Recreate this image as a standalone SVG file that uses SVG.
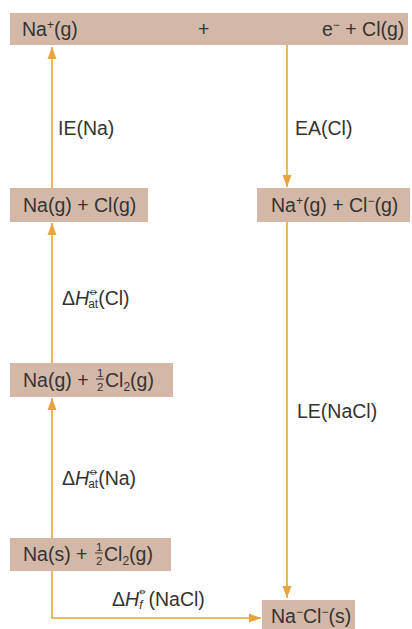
<svg xmlns="http://www.w3.org/2000/svg" width="412" height="629" viewBox="0 0 412 629">
<style>
.box{fill:#D4B8A7}
.t{font-family:"Liberation Sans",Arial,sans-serif;font-size:19.5px;fill:#333}
.sm{font-size:12px}
.pl{font-size:10px}
.fr{font-size:11.5px}
.ln{stroke:#E8A43C;stroke-width:1.6;fill:none}
</style>
<defs>
<marker id="ah" markerUnits="userSpaceOnUse" markerWidth="12" markerHeight="10" refX="12" refY="5" orient="auto">
<path d="M0,0.5 L12,5 L0,9.5 z" fill="#E8A43C"/>
</marker>
</defs>
<rect width="412" height="629" fill="#fff"/>
<g id="connectors">
<line class="ln" x1="52" y1="188" x2="52" y2="47" marker-end="url(#ah)"/>
<line class="ln" x1="52" y1="363" x2="52" y2="223" marker-end="url(#ah)"/>
<line class="ln" x1="52" y1="538" x2="52" y2="398" marker-end="url(#ah)"/>
<path class="ln" d="M52,571 V618 H261" marker-end="url(#ah)"/>
<line class="ln" x1="287" y1="45" x2="287" y2="187" marker-end="url(#ah)"/>
<line class="ln" x1="287" y1="222" x2="287" y2="598" marker-end="url(#ah)"/>
</g>
<g id="labels">
<text class="t" x="58" y="135">IE(Na)</text>
<text class="t" x="295" y="135">EA(Cl)</text>
<text class="t" x="62" y="305">Δ<tspan font-style="italic">H</tspan><tspan class="sm" dx="0" dy="-10">⦵</tspan><tspan class="sm" dx="-11" dy="13">at</tspan><tspan dy="-3">(Cl)</tspan></text>
<text class="t" x="297" y="418">LE(NaCl)</text>
<text class="t" x="62" y="485">Δ<tspan font-style="italic">H</tspan><tspan class="sm" dx="0" dy="-10">⦵</tspan><tspan class="sm" dx="-11" dy="13">at</tspan><tspan dy="-3">(Na)</tspan></text>
<text class="t" x="112" y="606">Δ<tspan font-style="italic">H</tspan><tspan class="pl" dx="0" dy="-12">⦵</tspan><tspan class="sm" dx="-8" dy="15" font-style="italic">f</tspan><tspan dx="6" dy="-3">(NaCl)</tspan></text>
</g>
<g id="top">
<rect class="box" x="10" y="13" width="398" height="32"/>
<text class="t" x="22" y="36">Na<tspan class="sm" dy="-7">+</tspan><tspan dy="7">(g)</tspan></text>
<text class="t" x="198" y="36">+</text>
<text class="t" x="322" y="36">e<tspan class="sm" dy="-7">−</tspan><tspan dy="7"> + Cl(g)</tspan></text>
</g>
<g id="na-cl-g">
<rect class="box" x="10" y="188" width="138" height="34"/>
<text class="t" x="23" y="212">Na(g) + Cl(g)</text>
</g>
<g id="ions-g">
<rect class="box" x="257" y="188" width="153" height="34"/>
<text class="t" x="271" y="212">Na<tspan class="sm" dy="-7">+</tspan><tspan dy="7">(g) + Cl</tspan><tspan class="sm" dy="-7">−</tspan><tspan dy="7">(g)</tspan></text>
</g>
<g id="na-g-cl2">
<rect class="box" x="10" y="363" width="163" height="34"/>
<text class="t" x="23" y="387">Na(g) + </text>
<text class="t fr" x="97" y="377">1</text>
<line x1="96" y1="379" x2="104" y2="379" stroke="#333" stroke-width="1"/>
<text class="t fr" x="97" y="391">2</text>
<text class="t" x="105" y="387">Cl<tspan class="sm" dy="4">2</tspan><tspan dy="-4">(g)</tspan></text>
</g>
<g id="na-s-cl2">
<rect class="box" x="10" y="538" width="161" height="33"/>
<text class="t" x="23" y="561">Na(s) + </text>
<text class="t fr" x="96" y="551">1</text>
<line x1="95" y1="553" x2="103" y2="553" stroke="#333" stroke-width="1"/>
<text class="t fr" x="96" y="565">2</text>
<text class="t" x="104" y="561">Cl<tspan class="sm" dy="4">2</tspan><tspan dy="-4">(g)</tspan></text>
</g>
<g id="nacl-s">
<rect class="box" x="262" y="600" width="93" height="29"/>
<text class="t" x="271" y="623">Na<tspan class="sm" dy="-7">−</tspan><tspan dy="7">Cl</tspan><tspan class="sm" dy="-7">−</tspan><tspan dy="7">(s)</tspan></text>
</g>
</svg>
